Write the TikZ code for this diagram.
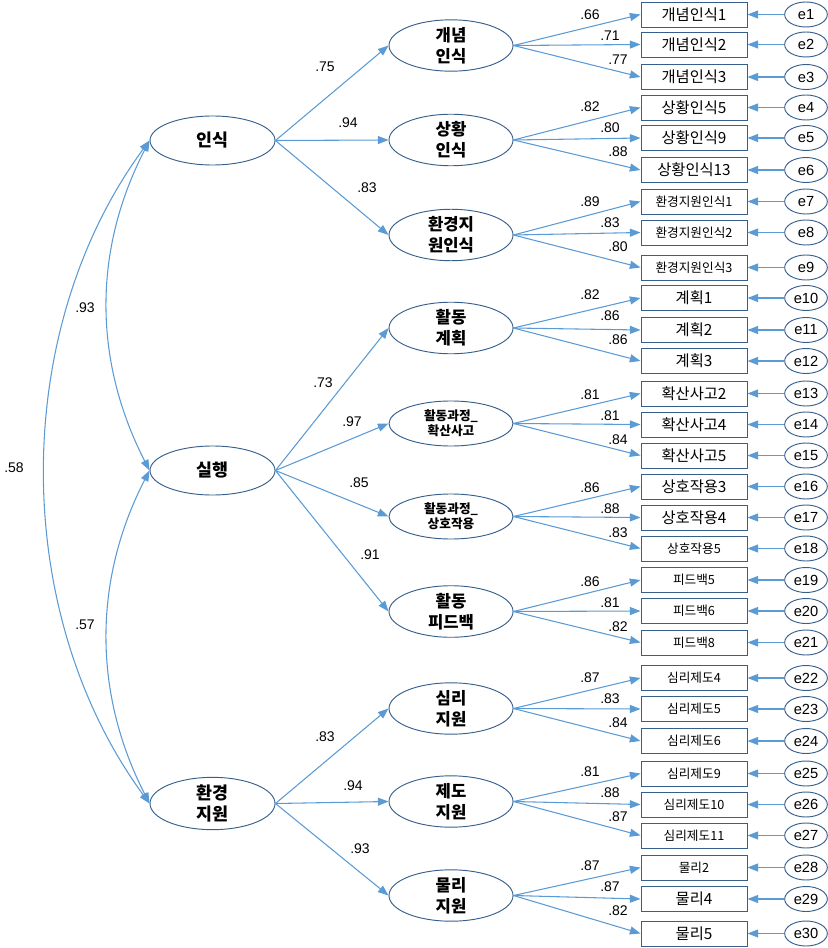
\documentclass[tikz,border=0pt]{standalone}
\usepackage{fontspec}
\setmainfont{Liberation Sans}
\newfontfamily\kr{Noto Sans CJK KR}
\usetikzlibrary{arrows.meta,shapes.geometric,calc}
\definecolor{lineblue}{RGB}{91,155,213}
\definecolor{shapeblue}{RGB}{55,95,140}
\tikzset{
  conn/.style={draw=lineblue, line width=0.8pt, -{Triangle[length=8pt,width=6pt]}},
  corr/.style={draw=lineblue, line width=0.8pt, {Triangle[length=8pt,width=6pt]}-{Triangle[length=8pt,width=6pt]}},
  toplat/.style={ellipse, draw=shapeblue, line width=0.7pt, minimum width=93.75pt, minimum height=36.75pt, inner sep=0pt, align=center, font=\kr\bfseries\fontsize{13}{15.5}\selectfont},
  sublat/.style={ellipse, draw=shapeblue, line width=0.7pt, minimum width=93pt, minimum height=33.75pt, inner sep=0pt, align=center, font=\kr\bfseries\fontsize{12.5}{15.5}\selectfont},
  sublatsm/.style={sublat, font=\kr\bfseries\fontsize{9.5}{11.5}\selectfont},
  obs/.style={rectangle, draw=shapeblue, line width=0.7pt, minimum width=79.5pt, minimum height=18.75pt, inner sep=0pt, font=\kr\fontsize{11.5}{12}\selectfont},
  obssm/.style={obs, font=\kr\fontsize{9.5}{11}\selectfont},
  err/.style={ellipse, draw=shapeblue, line width=0.7pt, minimum width=32pt, minimum height=18.75pt, inner sep=0pt, font=\fontsize{11}{12}\selectfont},
  lbl/.style={font=\fontsize{10.5}{12}\selectfont, inner sep=0pt}
}
\begin{document}
\begin{tikzpicture}[x=0.75pt,y=-0.75pt]
\useasboundingbox (0,0) rectangle (827,948);
% top-level latents
\node[toplat] (L1) at (212.5,140.5) {인식};
\node[toplat] (L2) at (212.5,470.5) {실행};
\node[toplat] (L3) at (212.5,803.5) {환경\\지원};
% second-level latents
\node[sublat] (S1) at (451,45.5) {개념\\인식};
\node[sublat] (S2) at (451,140) {상황\\인식};
\node[sublat] (S3) at (451,235) {환경지\\원인식};
\node[sublat] (S4) at (451,328) {활동\\계획};
\node[sublatsm] (S5) at (451,423.5) {활동과정\_\\확산사고};
\node[sublatsm] (S6) at (451,516.5) {활동과정\_\\상호작용};
\node[sublat] (S7) at (451,611.5) {활동\\피드백};
\node[sublat] (S8) at (451,708.5) {심리\\지원};
\node[sublat] (S9) at (451,801.5) {제도\\지원};
\node[sublat] (S10) at (451,895.5) {물리\\지원};
% observed
\node[obs] (o1) at (694,14.5) {개념인식1};
\node[obs] (o2) at (694,44.5) {개념인식2};
\node[obs] (o3) at (694,77) {개념인식3};
\node[obs] (o4) at (694,107.5) {상황인식5};
\node[obs] (o5) at (694,138) {상황인식9};
\node[obs] (o6) at (694,170) {상황인식13};
\node[obssm] (o7) at (694,201.5) {환경지원인식1};
\node[obssm] (o8) at (694,232.5) {환경지원인식2};
\node[obssm] (o9) at (694,267.5) {환경지원인식3};
\node[obs] (o10) at (694,298) {계획1};
\node[obs] (o11) at (694,330) {계획2};
\node[obs] (o12) at (694,361) {계획3};
\node[obs] (o13) at (694,393.5) {확산사고2};
\node[obs] (o14) at (694,424.5) {확산사고4};
\node[obs] (o15) at (694,455.5) {확산사고5};
\node[obs] (o16) at (694,486.5) {상호작용3};
\node[obs] (o17) at (694,517.5) {상호작용4};
\node[obssm] (o18) at (694,548.5) {상호작용5};
\node[obssm] (o19) at (694,580) {피드백5};
\node[obssm] (o20) at (694,611) {피드백6};
\node[obssm] (o21) at (694,642.5) {피드백8};
\node[obssm] (o22) at (694,678) {심리제도4};
\node[obssm] (o23) at (694,709) {심리제도5};
\node[obssm] (o24) at (694,741) {심리제도6};
\node[obssm] (o25) at (694,773.5) {심리제도9};
\node[obssm] (o26) at (694,804.5) {심리제도10};
\node[obssm] (o27) at (694,835.5) {심리제도11};
\node[obssm] (o28) at (694,867.5) {물리2};
\node[obs] (o29) at (694,899) {물리4};
\node[obs] (o30) at (694,933.5) {물리5};
% errors and their arrows
\foreach \i in {1,...,30}{
  \node[err] (e\i) at ($(o\i)+(112,0)$) {e\i};
  \draw[conn] (e\i.west) -- (o\i.east);
}
% top-level to second-level
\foreach \s in {1,2,3}{\draw[conn] (L1.east) -- (S\s.west);}
\foreach \s in {4,5,6,7}{\draw[conn] (L2.east) -- (S\s.west);}
\foreach \s in {8,9,10}{\draw[conn] (L3.east) -- (S\s.west);}
% second-level to observed
\foreach \s/\a/\b/\c in {1/1/2/3,2/4/5/6,3/7/8/9,4/10/11/12,5/13/14/15,6/16/17/18,7/19/20/21,8/22/23/24,9/25/26/27,10/28/29/30}{
  \draw[conn] (S\s.east) -- (o\a.west);
  \draw[conn] (S\s.east) -- (o\b.west);
  \draw[conn] (S\s.east) -- (o\c.west);
}
% correlations
\draw[corr] (L1.west) .. controls (93,250) and (93,360) .. (L2.west);
\draw[corr] (L2.west) .. controls (93,580) and (93,693) .. (L3.west);
\draw[corr] (L1.west) .. controls (10,330) and (10,613) .. (L3.west);
\node[lbl] (c1) at (85,308) {.93};
\node[lbl] (c2) at (85,625) {.57};
\node[lbl] (c3) at (14,468) {.58};
% structural labels
\node[lbl] (t1) at (325,67) {.75};
\node[lbl] (t2) at (348,123) {.94};
\node[lbl] (t3) at (367,188) {.83};
\node[lbl] (t4) at (323,383) {.73};
\node[lbl] (t5) at (352,422) {.97};
\node[lbl] (t6) at (359,483) {.85};
\node[lbl] (t7) at (370,555) {.91};
\node[lbl] (t8) at (325,737) {.83};
\node[lbl] (t9) at (353,786) {.94};
\node[lbl] (t10) at (360,849) {.93};
% loading labels
\foreach \y/\p/\q/\r [count=\k] in {0/.66/.71/.77, 92/.82/.80/.88, 187/.89/.83/.80, 280/.82/.86/.86, 380/.81/.81/.84, 473/.86/.88/.83, 567/.86/.81/.82, 663/.87/.83/.84, 757/.81/.88/.87, 851/.87/.87/.82}{
  \node[lbl] (la\k) at (590,\y+15) {\p};
  \node[lbl] (lb\k) at (610,\y+36) {\q};
  \node[lbl] (lc\k) at (618,\y+60) {\r};
}
\end{tikzpicture}
\end{document}
